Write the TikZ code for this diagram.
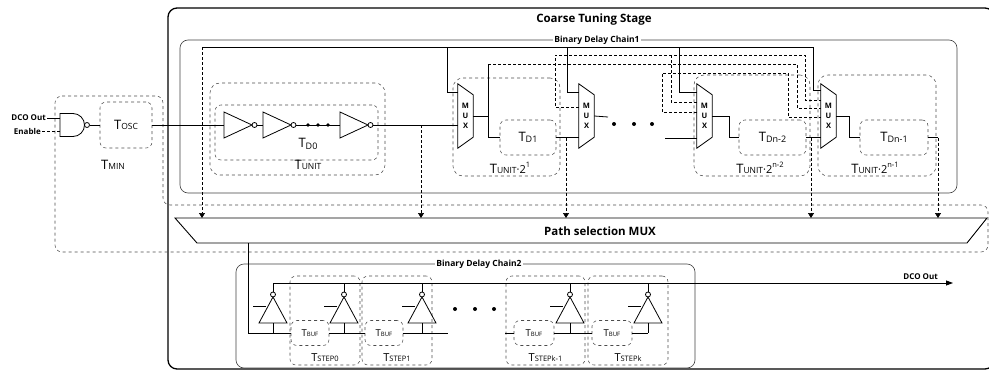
\documentclass[tikz,border=0pt]{standalone}
\usepackage{fontspec}
\setmainfont{Open Sans}
\usetikzlibrary{positioning,arrows.meta}

\tikzset{
  wire/.style={line width=0.8pt},
  bus/.style={line width=0.7pt, densely dashed},
  tap/.style={line width=0.6pt, densely dashed, -{Triangle[length=5pt, width=6pt]}},
  dbox/.style={draw=black!70, dashed, line width=0.55pt, rounded corners=6pt, inner sep=0pt},
  ubox/.style={dbox, rounded corners=10pt},
  chainbox/.style={draw=black!75, line width=0.6pt, rounded corners=8pt},
  ttl/.style={font=\bfseries\fontsize{11.5}{12}\selectfont},
  chainttl/.style={font=\bfseries\fontsize{8.5}{9}\selectfont, fill=white, inner sep=1.5pt},
  pinlab/.style={font=\bfseries\fontsize{8}{8}\selectfont, inner sep=1pt},
  muxnd/.style={minimum width=15pt, minimum height=64pt, inner sep=0pt, align=center, font=\bfseries\fontsize{7.5}{10}\selectfont},
  dot/.style={circle, fill, inner sep=0pt, minimum size=4pt},
}

\newcommand{\tlab}[1]{{\fontsize{13}{13}\selectfont T}{\fontsize{8.5}{9}\selectfont #1}}
\newcommand{\tdel}[1]{{\fontsize{13}{13}\selectfont T}\raisebox{-1.5pt}{\fontsize{9}{9}\selectfont D#1}}
\newcommand{\tunit}[1]{\tlab{UNIT}{\fontsize{11}{11}\selectfont ·2}\raisebox{1.0ex}{\fontsize{7.5}{8}\selectfont #1}}
\newcommand{\tbuf}{{\fontsize{9.5}{10}\selectfont T}{\fontsize{6}{6}\selectfont BUF}}
\newcommand{\tstep}[1]{{\fontsize{11}{11}\selectfont T}{\fontsize{7.5}{8}\selectfont STEP#1}}

% inverter pointing right: name, left x
\newcommand{\invgate}[2]{%
  \draw[wire] (#2,112) -- (#2+28,125) -- (#2,138) -- cycle;
  \draw[wire] (#2+30.5,125) circle (2.5pt);
  \coordinate (#1-in) at (#2,125);
  \coordinate (#1-out) at (#2+33,125);}
% tri-state buffer pointing up: name, centre x
\newcommand{\bufgate}[2]{%
  \draw[wire] (#2-14,323) -- (#2+14,323) -- (#2,297) -- cycle;
  \draw[wire] (#2,294.5) circle (2.5pt);
  \draw[wire] (#2-20,306) -- (#2-7,306);
  \coordinate (#1-in) at (#2,323);
  \coordinate (#1-out) at (#2,292);}
% mux outline round a muxnd node
\newcommand{\muxshape}[1]{%
  \draw[wire] (#1.north west) -- ([yshift=-11pt]#1.north east) -- ([yshift=11pt]#1.south east) -- (#1.south west) -- cycle;}

\begin{document}
\begin{tikzpicture}[x=1pt, y=-1pt]
\useasboundingbox (0,0) rectangle (989,372);

  % Coarse tuning stage
  \draw[line width=1.3pt, rounded corners=9pt] (168,8) rectangle (994,369) ; %
  \node[ttl] (cts) at (594,20) {Coarse Tuning Stage} ; %
  \draw[chainbox] (180,40) rectangle (957,193) ; %
  \node[chainttl] (bdc1) at (597,40) {Binary Delay Chain1} ; %

  % T_MIN and path selection
  \draw[dbox, rounded corners=7pt] (55,96) -- (163,96) -- (163,205) -- (988,205) -- (988,252) -- (55,252) -- cycle ; %
  \node (tmin) at (113,165) {\tlab{MIN}} ; %
  \draw[wire, line width=0.9pt] (175,218) -- (987,218) -- (967,243) -- (197,243) -- cycle ; %
  \node[ttl] (pmux) at (600,231) {Path selection MUX} ; %
  \coordinate (pmux-top) at (600,218) ; %
  \coordinate (pmux-o) at (248,243) ; %

  % Oscillator gate
  \draw[wire] (60,113.5) -- (73,113.5) arc[start angle=90, end angle=-90, radius=11.5pt] -- (60,136.5) -- cycle ; %
  \draw[wire] (87,125) circle (2.5pt) ; %
  \coordinate (nand-a) at (60,118) ; %
  \coordinate (nand-b) at (60,131) ; %
  \coordinate (nand-o) at (89.5,125) ; %
  \node[pinlab, anchor=east] (dcoin) at (47,118) {DCO Out} ; %
  \node[pinlab, anchor=east] (enable) at (42,131) {Enable} ; %
  \node[dbox, minimum width=52pt, minimum height=46pt] (tosc) at (126,125) {\tlab{OSC}} ; %

  % T_UNIT
  \node[ubox, minimum width=175pt, minimum height=92pt] (tunit) at (297.5,129) {} ; %
  \node[dbox, minimum width=163pt, minimum height=55pt] (td0) at (296.5,132.5) {} ; %
  \node (td0-lab) at (308,144) {\tdel{0}} ; %
  \node (tunit-lab) at (308,165) {\tlab{UNIT}} ; %
  \invgate{i1}{224}
  \invgate{i2}{263}
  \invgate{i3}{340}

  % Binary stages
  \node[ubox, minimum width=107pt, minimum height=98pt] (tu1) at (506.5,127) {} ; %
  \node[dbox, minimum width=56pt, minimum height=35pt] (td1) at (528,137.5) {\tdel{1}} ; %
  \node (tu1-lab) at (510,168) {\tunit{1}} ; %
  \node[ubox, minimum width=116pt, minimum height=101pt] (tu3) at (752,125.5) {} ; %
  \node[dbox, minimum width=67pt, minimum height=35pt] (td3) at (772.5,137.5) {\tdel{n-2}} ; %
  \node (tu3-lab) at (760,168) {\tunit{n-2}} ; %
  \node[ubox, minimum width=118pt, minimum height=101pt] (tu4) at (877,125.5) {} ; %
  \node[dbox, minimum width=68pt, minimum height=35pt] (td4) at (894,137.5) {\tdel{n-1}} ; %
  \node (tu4-lab) at (875,168) {\tunit{n-1}} ; %

  % Muxes
  \node[muxnd] (m1) at (465.5,116) {M\\U\\X} ; \muxshape{m1}
  \node[muxnd] (m2) at (586.5,116) {M\\U\\X} ; \muxshape{m2}
  \node[muxnd] (m3) at (704.5,116) {M\\U\\X} ; \muxshape{m3}
  \node[muxnd] (m4) at (828.5,116) {M\\U\\X} ; \muxshape{m4}
  \foreach \x [count=\i] in {308,318,328} \node[dot, minimum size=3.6pt] (d0-\i) at (\x,125) {} ;
  \foreach \x [count=\i] in {614,634,652} \node[dot] (d1-\i) at (\x,124) {} ;

  % Bus points
  \coordinate (b0s) at (202,47) ; %
  \coordinate (b0e) at (813,47) ; %
  \coordinate (b1s) at (555,55) ; %
  \coordinate (b1e) at (805,55) ; %
  \coordinate (b2s) at (488,64) ; %
  \coordinate (b2e) at (797,64) ; %
  \coordinate (b3s) at (662,73) ; %
  \coordinate (b3e) at (788,73) ; %
  \coordinate (k1) at (447,47) ; %
  \coordinate (k2) at (567,47) ; %
  \coordinate (k3) at (679,47) ; %
  \coordinate (k4) at (671,55) ; %
  \coordinate (m2o) at (608,117) ; %
  \coordinate (m3i) at (665,138) ; %
  \coordinate (m3o) at (729,116) ; %
  \coordinate (m4o) at (849,116) ; %
  \coordinate (tp0) at (421,125) ; %
  \coordinate (tp1) at (566,137.5) ; %
  \coordinate (tp2) at (811,137.5) ; %
  \coordinate (tp3) at (938,137.5) ; %

  % Upper wires
  \draw[wire] (dcoin) -- (nand-a) ;
  \draw[wire, densely dashed] (enable) -- (nand-b) ;
  \draw[wire] (nand-o) -- (tosc.west) ;
  \draw[wire] (tosc.east) -- (i1-in) ;
  \draw[wire] (i1-out) -- (i2-in) ;
  \draw[wire] (i2-out) -- (i3-in) ;
  \draw[wire] (i3-out) -- (m1.west |- i3-out) ;
  \draw[wire] (b0s) -- (b0e) |- ([yshift=26pt]m4.west) ;
  \draw[wire] (k1) |- ([yshift=24pt]m1.west) ;
  \draw[wire] (k2) |- ([yshift=24pt]m2.west) ;
  \draw[wire] (k3) |- ([yshift=24pt]m3.west) ;
  \draw[wire] (m1.east) -- (b2s |- m1.east) ;
  \draw[wire] (b2s) |- (td1.west) ;
  \draw[bus] (b2s) -- (b2e) |- ([yshift=8pt]m4.west) ;
  \draw[bus] ([yshift=9pt]m2.west) -| (b1s) -- (b1e) |- ([yshift=16pt]m4.west) ;
  \draw[bus] (k4) |- ([yshift=14pt]m3.west) ;
  \draw[bus] ([yshift=4pt]m3.west) -| (b3s) -- (b3e) |- ([yshift=-1pt]m4.west) ;
  \draw[wire] (td1.east) -- (m2.west |- td1.east) ;
  \draw[wire] (m2.east) -- (m2o) ;
  \draw[wire] (m3i) -- (m3.west |- m3i) ;
  \draw[wire] (m3.east) -- (m3o) |- (td3.west) ;
  \draw[wire] (td3.east) -- (m4.west |- td3.east) ;
  \draw[wire] (m4.east) -- (m4o) |- (td4.west) ;
  \draw[wire] (td4.east) -- (tp3) ;

  % Taps to path selection
  \draw[tap] (b0s) -- (b0s |- pmux-top) ;
  \foreach \t in {tp0,tp1,tp2,tp3} \draw[tap] (\t) -- (\t |- pmux-top) ;

  % Binary delay chain 2
  \draw[chainbox] (236,264) rectangle (695,368) ; %
  \node[chainttl] (bdc2) at (479,264) {Binary Delay Chain2} ; %
  \node[dbox, minimum width=70pt, minimum height=89pt] (ts0) at (325,320.5) {} ; %
  \node[dbox, minimum width=70pt, minimum height=89pt] (ts1) at (397,320.5) {} ; %
  \node[dbox, minimum width=79pt, minimum height=89pt] (ts2) at (545.5,320.5) {} ; %
  \node[dbox, minimum width=80pt, minimum height=89pt] (ts3) at (628,320.5) {} ; %
  \node[above=0pt of ts0.south] (ts0-lab) {\tstep{0}} ; %
  \node[above=0pt of ts1.south] (ts1-lab) {\tstep{1}} ; %
  \node[above=0pt of ts2.south] (ts2-lab) {\tstep{k-1}} ; %
  \node[above=0pt of ts3.south] (ts3-lab) {\tstep{k}} ; %
  \node[dbox, minimum width=38pt, minimum height=25pt] (tb1) at (310,333) {\tbuf} ; %
  \node[dbox, minimum width=38pt, minimum height=25pt] (tb2) at (384,333) {\tbuf} ; %
  \node[dbox, minimum width=40pt, minimum height=25pt] (tb3) at (534,333) {\tbuf} ; %
  \node[dbox, minimum width=40pt, minimum height=25pt] (tb4) at (612,333) {\tbuf} ; %
  \bufgate{u1}{273}
  \bufgate{u2}{344}
  \bufgate{u3}{422}
  \bufgate{u4}{570}
  \bufgate{u5}{648}
  \foreach \x [count=\i] in {455,475,494} \node[dot] (d2-\i) at (\x,309) {} ;
  \coordinate (outs) at (273,283) ; %
  \coordinate (oute) at (953,283) ; %
  \coordinate (ch-a) at (448,333) ; %
  \coordinate (ch-b) at (505,333) ; %
  \node[pinlab, above left=2pt and 14pt of oute] (dcoout) {DCO Out} ; %

  % Lower wires
  \draw[wire] (pmux-o) |- (tb1.west) ;
  \draw[wire, -{Triangle[length=7pt, width=5pt]}] (outs) -- (oute) ;
  \foreach \u in {u1,u2,u3,u4,u5} {
    \draw[wire] (\u-out) -- (\u-out |- outs) ;
    \draw[wire] (\u-in) -- ++(0,10) ;
  }
  \draw[wire] (tb1.east) -- (tb2.west) ;
  \draw[wire] (tb2.east) -- (ch-a) ;
  \draw[wire] (ch-b) -- (tb3.west) ;
  \draw[wire] (tb3.east) -- (tb4.west) ;
  \draw[wire] (tb4.east) -- (u5-in |- tb4.east) ;

\end{tikzpicture}
\end{document}
